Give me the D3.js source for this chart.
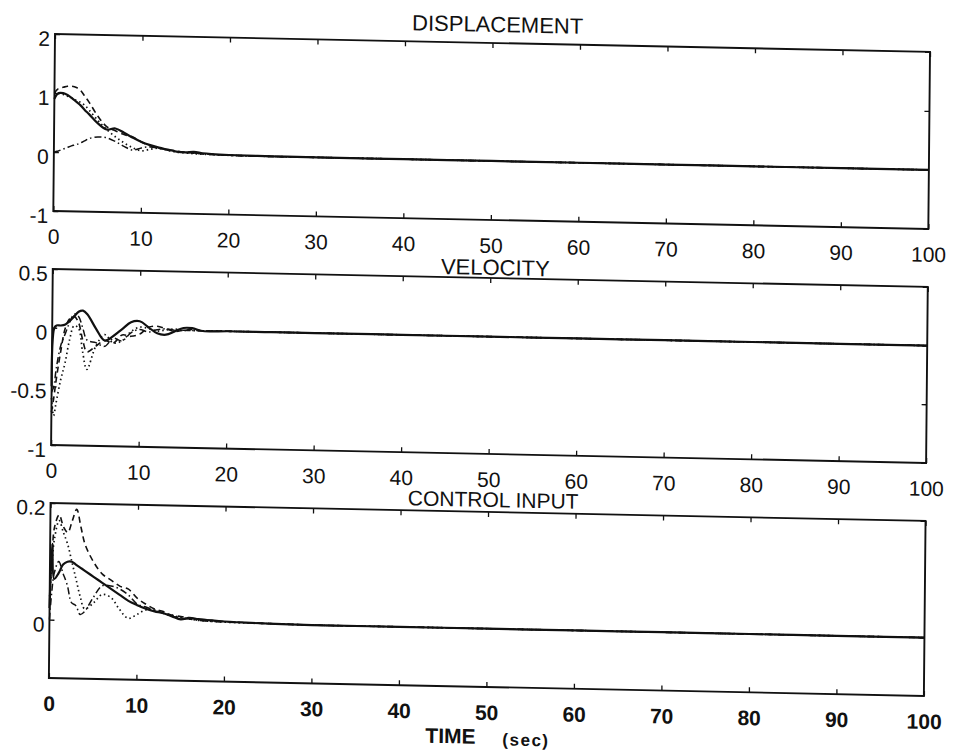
<!DOCTYPE html>
<html>
<head>
<meta charset="utf-8">
<script src="https://cdn.jsdelivr.net/npm/d3@7"></script>
<style>
  html, body { margin: 0; padding: 0; background: #fff; }
  svg { display: block; }
  text { font-family: "Liberation Sans", Arial, Helvetica, sans-serif; fill: #111; }
</style>
</head>
<body>
<svg id="chart" width="956" height="753"></svg>
<script>
// ---------------- DATA ----------------
const time = [0, 0.25, 0.5, 1, 1.5, 2, 2.5, 3, 3.5, 4, 5, 6, 7, 8, 9, 10, 11, 12, 13, 14, 15, 16, 17, 18, 20, 25, 30, 40, 50, 60, 70, 80, 90, 100];

const xTicks = [0, 10, 20, 30, 40, 50, 60, 70, 80, 90, 100];
const xTickLabels = ["0", "10", "20", "30", "40", "50", "60", "70", "80", "90", "100"];

const panelTitles = ["DISPLACEMENT", "VELOCITY", "CONTROL INPUT"];

// Displacement
const dispDomain = [-1, 2];
const dispTicks = [2, 1, 0, -1];
const dispTickLabels = ["2", "1", "0", "-1"];
const dispSolid   = [0.9, 0.97, 1.0, 1.0, 0.97, 0.92, 0.86, 0.8, 0.72, 0.65, 0.5, 0.4, 0.42, 0.35, 0.27, 0.2, 0.15, 0.11, 0.08, 0.05, 0.04, 0.05, 0.03, 0.02, 0.01, 0.003, 0, 0, 0, 0, 0, 0, 0, 0];
const dispDashed  = [1.0, 1.05, 1.08, 1.1, 1.12, 1.12, 1.1, 1.05, 0.95, 0.85, 0.62, 0.45, 0.38, 0.32, 0.28, 0.2, 0.14, 0.1, 0.08, 0.06, 0.04, 0.03, 0.02, 0.015, 0.005, 0, 0, 0, 0, 0, 0, 0, 0, 0];
const dispDotted  = [1.0, 1.02, 1.0, 0.98, 0.95, 0.92, 0.88, 0.85, 0.8, 0.72, 0.55, 0.4, 0.28, 0.18, 0.1, 0.05, 0.08, 0.1, 0.07, 0.04, 0.03, 0.02, 0.015, 0.01, 0.005, 0, 0, 0, 0, 0, 0, 0, 0, 0];
const dispDashDot = [0, 0.01, 0.02, 0.05, 0.08, 0.11, 0.13, 0.16, 0.2, 0.24, 0.27, 0.26, 0.2, 0.12, 0.06, 0.1, 0.12, 0.1, 0.07, 0.05, 0.04, 0.03, 0.02, 0.015, 0.005, 0, 0, 0, 0, 0, 0, 0, 0, 0];

// Velocity
const velDomain = [-1, 0.5];
const velTicks = [0.5, 0, -0.5, -1];
const velTickLabels = ["0.5", "0", "-0.5", "-1"];
const velSolid   = [-0.5, 0.0, 0.02, 0.02, 0.03, 0.06, 0.1, 0.14, 0.15, 0.12, 0.0, -0.1, -0.06, 0.0, 0.06, 0.07, 0.02, -0.03, -0.04, -0.01, 0.02, 0.02, 0.0, -0.005, 0, 0, 0, 0, 0, 0, 0, 0, 0, 0];
const velDashed  = [-0.72, -0.6, -0.45, -0.2, 0.0, 0.08, 0.1, 0.05, -0.1, -0.2, -0.15, -0.1, -0.12, -0.05, -0.06, -0.04, 0.02, 0.03, 0.01, -0.01, 0.0, 0.01, 0, 0, 0, 0, 0, 0, 0, 0, 0, 0, 0, 0];
const velDotted  = [-0.6, -0.75, -0.65, -0.45, -0.3, -0.1, 0.02, 0.0, -0.2, -0.35, -0.15, -0.05, -0.12, -0.1, -0.02, 0.02, 0.01, -0.01, 0, 0.01, 0, 0, 0, 0, 0, 0, 0, 0, 0, 0, 0, 0, 0, 0];
const velDashDot = [-0.55, -0.5, -0.35, -0.15, -0.05, 0.05, 0.12, 0.1, 0.0, -0.1, -0.12, -0.15, -0.08, -0.1, -0.03, 0.0, -0.02, 0.0, 0.01, 0, 0, 0, 0, 0, 0, 0, 0, 0, 0, 0, 0, 0, 0, 0];

// Control input
const ctrlDomain = [-0.1, 0.2];
const ctrlTicks = [0.2, 0];
const ctrlTickLabels = ["0.2", "0"];
const ctrlSolid   = [0.02, 0.13, 0.07, 0.08, 0.095, 0.1, 0.1, 0.095, 0.09, 0.085, 0.075, 0.065, 0.055, 0.045, 0.035, 0.028, 0.022, 0.018, 0.015, 0.01, 0.005, 0.008, 0.006, 0.005, 0.003, 0.001, 0, 0, 0, 0, 0, 0, 0, 0];
const ctrlDashed  = [0.05, 0.12, 0.16, 0.18, 0.16, 0.15, 0.17, 0.19, 0.16, 0.13, 0.1, 0.08, 0.07, 0.06, 0.055, 0.04, 0.03, 0.022, 0.018, 0.012, 0.01, 0.008, 0.006, 0.005, 0.003, 0.001, 0, 0, 0, 0, 0, 0, 0, 0];
const ctrlDotted  = [0.04, 0.1, 0.14, 0.17, 0.15, 0.13, 0.1, 0.07, 0.04, 0.02, 0.03, 0.045, 0.04, 0.02, 0.005, 0.012, 0.02, 0.02, 0.015, 0.012, 0.008, 0.006, 0.004, 0.003, 0.002, 0.001, 0, 0, 0, 0, 0, 0, 0, 0];
const ctrlDashDot = [0.0, 0.05, 0.08, 0.1, 0.08, 0.06, 0.03, 0.025, 0.01, 0.015, 0.04, 0.06, 0.06, 0.055, 0.045, 0.03, 0.025, 0.02, 0.015, 0.01, 0.008, 0.006, 0.004, 0.003, 0.002, 0.001, 0, 0, 0, 0, 0, 0, 0, 0];

const xAxisLabel = "TIME";
const xAxisUnit = "(sec)";

// ---------------- LAYOUT ----------------
const left = 55, right = 930;
const panels = [
  { title: panelTitles[0], top: 34, height: 177, domain: dispDomain, ticks: dispTicks, labels: dispTickLabels,
    series: [dispDashDot, dispDotted, dispDashed, dispSolid], titleGap: 11, boldX: false },
  { title: panelTitles[1], top: 269, height: 176, domain: velDomain, ticks: velTicks, labels: velTickLabels,
    series: [velDashDot, velDotted, velDashed, velSolid], titleGap: 3, boldX: false },
  { title: panelTitles[2], top: 503, height: 175, domain: ctrlDomain, ticks: ctrlTicks, labels: ctrlTickLabels,
    series: [ctrlDashDot, ctrlDotted, ctrlDashed, ctrlSolid], titleGap: 5, boldX: true }
];
const styles = [
  { dash: "7,3,1.5,3", width: 1.5 },
  { dash: "1.5,3", width: 1.7 },
  { dash: "6,4", width: 1.6 },
  { dash: null, width: 2.2 }
];

const svg = d3.select("#chart");
// slight skew of the scanned page
const root = svg.append("g").attr("transform", "matrix(1,0.0205,-0.0095,1,0.323,-1.1275)");

const x = d3.scaleLinear().domain([0, 100]).range([left, right]);

panels.forEach((p, pi) => {
  const y = d3.scaleLinear().domain(p.domain).range([p.top + p.height, p.top]);
  const g = root.append("g");

  // data lines
  const line = d3.line().x((d, i) => x(time[i])).y(d => y(d)).curve(d3.curveCatmullRom.alpha(0.5));
  p.series.forEach((s, si) => {
    g.append("path")
      .attr("d", line(s))
      .attr("fill", "none")
      .attr("stroke", "#111")
      .attr("stroke-width", styles[si].width)
      .attr("stroke-dasharray", styles[si].dash)
      .attr("stroke-linejoin", "round");
  });

  // bottom axis with labels
  const xb = g.append("g").attr("transform", `translate(0,${p.top + p.height})`)
    .call(d3.axisBottom(x).tickValues(xTicks).tickSize(-5).tickPadding(18)
      .tickFormat((d, i) => xTickLabels[i]));
  xb.select(".domain").remove();
  xb.selectAll("text").attr("font-size", 21).attr("fill", "#111")
    .attr("font-weight", p.boldX ? "bold" : "normal")
    .style("font-family", '"Liberation Sans", Arial, sans-serif');
  xb.selectAll("line").attr("stroke", "#111").attr("stroke-width", 1.3);

  // top ticks
  const xt = g.append("g").attr("transform", `translate(0,${p.top})`)
    .call(d3.axisTop(x).tickValues(xTicks).tickSize(-5).tickFormat(""));
  xt.select(".domain").remove();
  xt.selectAll("line").attr("stroke", "#111").attr("stroke-width", 1.3);

  // left axis
  const yl = g.append("g").attr("transform", `translate(${left},0)`)
    .call(d3.axisLeft(y).tickValues(p.ticks).tickSize(-5).tickPadding(5)
      .tickFormat((d, i) => p.labels[i]));
  yl.select(".domain").remove();
  yl.selectAll("text").attr("font-size", 21).attr("dy", "0.55em").attr("fill", "#111")
    .style("font-family", '"Liberation Sans", Arial, sans-serif');
  yl.selectAll("line").attr("stroke", "#111").attr("stroke-width", 1.3);

  // right ticks
  const yr = g.append("g").attr("transform", `translate(${right},0)`)
    .call(d3.axisRight(y).tickValues(p.ticks).tickSize(-5).tickFormat(""));
  yr.select(".domain").remove();
  yr.selectAll("line").attr("stroke", "#111").attr("stroke-width", 1.3);

  // border
  g.append("rect")
    .attr("x", left).attr("y", p.top)
    .attr("width", right - left).attr("height", p.height)
    .attr("fill", "none").attr("stroke", "#111").attr("stroke-width", 1.9);

  // title
  g.append("text")
    .attr("x", (left + right) / 2 + 5)
    .attr("y", p.top - p.titleGap)
    .attr("text-anchor", "middle")
    .attr("font-size", pi === 2 ? 21 : 22)
    .text(p.title);
});

// x axis label
root.append("text").attr("x", 432).attr("y", 735)
  .attr("font-size", 21).attr("font-weight", "bold").text(xAxisLabel);
root.append("text").attr("x", 509).attr("y", 736)
  .attr("font-size", 17).attr("font-weight", "bold").attr("letter-spacing", 1.5).text(xAxisUnit);
</script>
</body>
</html>
